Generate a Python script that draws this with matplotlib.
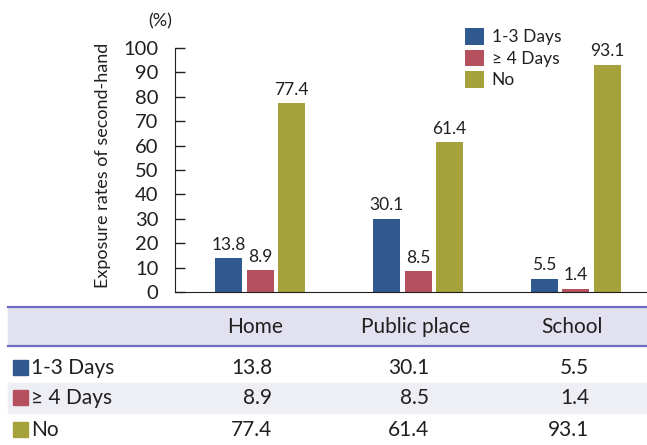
import matplotlib.pyplot as plt
import matplotlib.patches as mpatches
from matplotlib.lines import Line2D
import numpy as np

plt.rcParams['font.family'] = ['Lato', 'DejaVu Sans']

# data
places = ["Home", "Public place", "School"]
series = ["1-3 Days", "\u2265 4 Days", "No"]
days_1_3 = [13.8, 30.1, 5.5]
days_4_plus = [8.9, 8.5, 1.4]
no_exposure = [77.4, 61.4, 93.1]
yticks = [0, 10, 20, 30, 40, 50, 60, 70, 80, 90, 100]

colors = ["#30598f", "#b5505e", "#a5a23c"]
text_col = "#231f20"
line_col = "#6c6cc4"

W, H = 647, 445
fig = plt.figure(figsize=(W / 100, H / 100), dpi=100)

def fx(px):
    return px / W

def fy(py):
    return 1 - py / H

ax = fig.add_axes([fx(175), fy(292), fx(647) - fx(175), fy(48) - fy(292)])
x = np.arange(len(places))
width = 27 / 158
step = 31.5 / 158
all_vals = [days_1_3, days_4_plus, no_exposure]
for i, vals in enumerate(all_vals):
    pos = x + (i - 1) * step
    bars = ax.bar(pos, vals, width=width, color=colors[i], label=series[i])
    for b, v in zip(bars, vals):
        ax.annotate(f"{v}", (b.get_x() + b.get_width() / 2, v), xytext=(0, 4),
                    textcoords="offset points", ha="center", va="bottom",
                    fontsize=12.5, color=text_col)

ax.set_xlim(-0.54, 2.45)
ax.set_ylim(0, 100)
ax.set_yticks(yticks)
ax.tick_params(axis="y", direction="in", length=7, width=1, pad=12,
               labelsize=14.5, colors=text_col)
ax.set_xticks([])
for s in ["top", "right"]:
    ax.spines[s].set_visible(False)
ax.spines["left"].set_color(text_col)
ax.spines["bottom"].set_color(text_col)
ax.set_ylabel("Exposure rates of second-hand", fontsize=13, color=text_col)
ax.yaxis.set_label_coords(-(175 - 111) / (647 - 175), 0.52)

fig.text(fx(160), fy(21), "(%)", ha="center", va="center", fontsize=13, color=text_col)

leg = ax.legend(loc="upper left", bbox_to_anchor=((458 - 175) / 472, 1 + (48 - 21) / 244),
                frameon=False, fontsize=12.5, handlelength=1.1, handleheight=1.1,
                handletextpad=0.45, labelspacing=0.25, borderaxespad=0)
for t in leg.get_texts():
    t.set_color(text_col)

# table below
fig.patches.append(mpatches.Rectangle((fx(8), fy(346)), fx(647) - fx(8), fy(307) - fy(346),
                                      transform=fig.transFigure, color="#e1e1ef", zorder=0))
fig.patches.append(mpatches.Rectangle((fx(8), fy(413)), fx(647) - fx(8), fy(383) - fy(413),
                                      transform=fig.transFigure, color="#eeeef5", zorder=0))
for yy in [307, 346]:
    fig.lines.append(Line2D([fx(8), 1], [fy(yy), fy(yy)], transform=fig.transFigure,
                            color=line_col, lw=1.6))

col_center = [255, 415, 572]
col_right = [272, 429, 589]
row_y = [368, 398, 430]
for c, name in zip(col_center, places):
    fig.text(fx(c), fy(327), name, ha="center", va="center", fontsize=15, color=text_col)
for r, (name, vals) in enumerate(zip(series, all_vals)):
    fig.patches.append(mpatches.Rectangle((fx(13), fy(row_y[r] + 7)), fx(15), fy(0) - fy(15),
                                          transform=fig.transFigure, color=colors[r]))
    fig.text(fx(31), fy(row_y[r]), name, ha="left", va="center", fontsize=15, color=text_col)
    for c, v in zip(col_right, vals):
        fig.text(fx(c), fy(row_y[r]), f"{v}", ha="right", va="center", fontsize=15, color=text_col)

fig.savefig("out.png", dpi=100)
